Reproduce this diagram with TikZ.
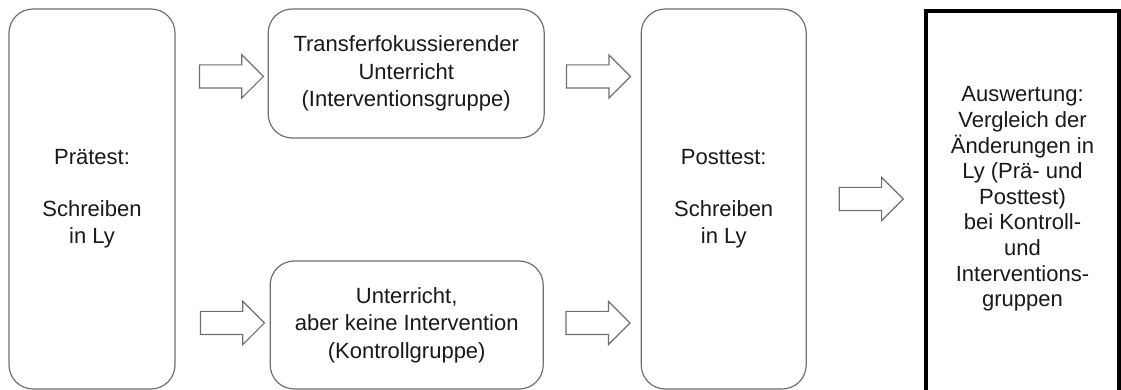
\documentclass[tikz,border=0pt]{standalone}
\usepackage{fontspec}
\setmainfont{Liberation Sans}
\usetikzlibrary{
  calc,
  positioning,
  shapes.arrows,
}
\definecolor{cLine}{RGB}{112,112,112}
\definecolor{cText}{RGB}{25,25,25}
\tikzset{
  % Rounded stage box
  stage/.style={
    rectangle, rounded corners=24pt,
    draw=cLine, line width=1.2pt, fill=white,
    text=cText, align=center, inner sep=0pt,
    font=\fontsize{22}{27.5}\selectfont,
  },
  % Hollow block arrow
  blockarr/.style={
    single arrow, draw=cLine, fill=white, line width=1.2pt,
    minimum height=64pt, inner xsep=0pt, inner ysep=11pt,
    single arrow head extend=10pt,
  },
  % Evaluation frame
  evalframe/.style={
    rectangle, draw=black, line width=4pt,
    minimum width=193pt, minimum height=400pt,
  },
}

\begin{document}
\begin{tikzpicture}[x=1pt, y=1pt]
\useasboundingbox (0,0) rectangle (1121,390);

% ── Pre- and post test ────────────────────────────────────────────────────────
\node[stage, minimum width=166pt, minimum height=380pt]
  (pre) at (92,191) {Prätest:\\[24pt]Schreiben\\in Ly};

\node[stage, minimum width=165pt, minimum height=380pt,
  right=465pt of pre]
  (post) {Posttest:\\[24pt]Schreiben\\in Ly};

% ── Groups ────────────────────────────────────────────────────────────────────
\node[stage, minimum width=276pt, minimum height=129pt,
  right=92pt of pre.north east, anchor=north west]
  (interv) {Transferfokussierender\\Unterricht\\(Interventionsgruppe)};

\node[stage, minimum width=273pt, minimum height=128pt,
  right=94pt of pre.south east, anchor=south west]
  (kontroll) {Unterricht,\\aber keine Intervention\\(Kontrollgruppe)};

% ── Evaluation ────────────────────────────────────────────────────────────────
\node[text=cText, align=center, font=\fontsize{22}{25.6}\selectfont]
  (evaltext) at (1022.5,191)
  {Auswertung:\\Vergleich der\\Änderungen in\\Ly (Prä- und\\Posttest)\\bei Kontroll-\\und\\Interventions-\\gruppen};
\node[evalframe, anchor=north] (evalbox) at ($(evaltext.center)+(0,189.5)$) {};

% ── Block arrows ──────────────────────────────────────────────────────────────
\node[blockarr, xshift=4pt, yshift=-3pt] (a1)
  at ($(pre.east |- interv)!0.5!(interv.west)$) {};
\node[blockarr, xshift=4pt, yshift=2pt] (a2)
  at ($(pre.east |- kontroll)!0.5!(kontroll.west)$) {};
\node[blockarr, yshift=-3pt] (a3)
  at ($(interv.east)!0.5!(post.west |- interv)$) {};
\node[blockarr, yshift=2pt] (a4)
  at ($(kontroll.east)!0.5!(post.west |- kontroll)$) {};
\node[blockarr] (a5)
  at ($(post.east)!0.5!(evalbox.west |- post)$) {};

\end{tikzpicture}
\end{document}
